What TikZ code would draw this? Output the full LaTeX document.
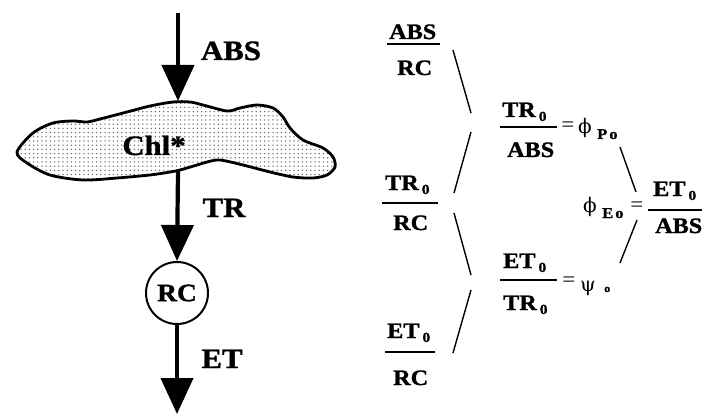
\documentclass[tikz,border=0pt]{standalone}
\usepackage{fontspec}
\setmainfont{Liberation Serif}[FakeStretch=1.1, BoldFeatures={FakeBold=1.2}]
\newfontfamily\grk{DejaVu Serif}
\usetikzlibrary{arrows.meta,patterns.meta}
\tikzset{
 lbl/.style={font=\bfseries\fontsize{28}{28}\selectfont, inner sep=0pt, anchor=base},
 fr/.style={font=\bfseries\fontsize{22}{22}\selectfont, inner sep=0pt, anchor=base west},
 bar/.style={line width=1.5pt},
 link/.style={line width=1.4pt},
 flow/.style={line width=4.2pt, -{Triangle[width=32pt,length=36pt]}},
 eqs/.style={font=\fontsize{21}{21}\selectfont, inner sep=0pt, anchor=center},
 gk/.style={font=\grk\fontsize{20}{20}\selectfont, inner sep=0pt, anchor=center},
 sb/.style={font=\bfseries\fontsize{15}{15}\selectfont, inner sep=0pt, anchor=base west},
 rcnode/.style={circle, draw, line width=2pt, minimum size=62pt, inner sep=0pt, font=\bfseries\fontsize{25}{25}\selectfont},
}
\newcommand\zs{\hspace{3pt}\raisebox{-4pt}{\fontsize{14}{14}\selectfont 0}}
\begin{document}
\begin{tikzpicture}[x=1pt,y=-1pt]
\useasboundingbox (0,0) rectangle (703,414);
% blob
\draw[line width=2.8pt, pattern={Dots[radius=0.75pt,distance=4.2pt]}, pattern color=black!60]
 plot[smooth cycle, tension=0.5] coordinates {
 (17,152) (33,133) (53,123) (73,121) (87,122) (100,119) (127,112) (150,106) (173,102) (190,102)
 (203,105) (227,111) (240,108) (257,105) (273,108) (283,117) (290,128) (303,140) (323,148)
 (333,157) (335,167) (327,175) (313,178) (293,177) (270,172) (243,165) (220,160) (207,162)
 (197,165) (180,170) (170,172) (150,175) (117,178) (83,180) (50,175) (27,163)};
\node[lbl] (chl) at (154,155) {Chl*};
\coordinate (start) at (178,13);
\coordinate (blobtop) at (178,101);
\coordinate (blobbot) at (178,171);
\node[rcnode] (rc) at (177,293) {RC};
\coordinate (etend) at (177,414);
\draw[flow] (start) -- (blobtop);
\draw[flow] (blobbot) -- (rc.north);
\draw[flow] (rc.south) -- (etend);
\node[lbl] (labs) at (231,60) {ABS};
\node[lbl] (ltr) at (224,217) {TR};
\node[lbl] (let) at (222,368) {ET};
% F1 ABS/RC
\node[fr] (f1n) at (389,39) {ABS};
\node[fr] (f1d) at (397,75) {RC};
\coordinate (f1a) at (387,44); \coordinate (f1b) at (440,44);
\draw[bar] (f1a) -- (f1b);
% F2 TR0/ABS
\node[fr] (f2n) at (502,117) {TR\zs};
\node[fr] (f2d) at (507,157) {ABS};
\coordinate (f2a) at (500,127); \coordinate (f2b) at (557,127);
\draw[bar] (f2a) -- (f2b);
\node[eqs] (f2e) at (568,127) {=};
\node[gk] (f2p) at (585,128) {ϕ};
\node[sb] (f2s) at (597,139) {P\hspace{2pt}o};
% F3 ET0/ABS
\node[fr] (f3n) at (653,196) {ET\zs};
\node[fr] (f3d) at (655,233) {ABS};
\coordinate (f3a) at (648,210); \coordinate (f3b) at (702,210);
\draw[bar] (f3a) -- (f3b);
\node[eqs] (f3e) at (637,207) {=};
\node[gk] (f3p) at (590,207) {ϕ};
\node[sb] (f3s) at (602,218) {E\hspace{2pt}o};
% F4 ET0/TR0
\node[fr] (f4n) at (503,268) {ET\zs};
\node[fr] (f4d) at (503,310) {TR\zs};
\coordinate (f4a) at (500,280); \coordinate (f4b) at (557,280);
\draw[bar] (f4a) -- (f4b);
\node[eqs] (f4e) at (569,282) {=};
\node[gk] (f4p) at (588,288) {ψ};
\node[font=\bfseries\fontsize{11}{11}\selectfont, inner sep=0pt, anchor=base west] (f4s) at (604,292) {o};
% F5 TR0/RC
\node[fr] (f5n) at (385,190) {TR\zs};
\node[fr] (f5d) at (393,230) {RC};
\coordinate (f5a) at (382,203); \coordinate (f5b) at (438,203);
\draw[bar] (f5a) -- (f5b);
% F6 ET0/RC
\node[fr] (f6n) at (387,338) {ET\zs};
\node[fr] (f6d) at (393,385) {RC};
\coordinate (f6a) at (385,352); \coordinate (f6b) at (435,352);
\draw[bar] (f6a) -- (f6b);
% links
\coordinate (l1a) at (453,50);  \coordinate (l1b) at (471,113);
\coordinate (l2a) at (471,132); \coordinate (l2b) at (454,193);
\coordinate (l3a) at (620,147); \coordinate (l3b) at (636,192);
\coordinate (l4a) at (637,220); \coordinate (l4b) at (620,263);
\coordinate (l5a) at (454,213); \coordinate (l5b) at (471,275);
\coordinate (l6a) at (471,290); \coordinate (l6b) at (453,353);
\draw[link] (l1a) -- (l1b);
\draw[link] (l2a) -- (l2b);
\draw[link] (l3a) -- (l3b);
\draw[link] (l4a) -- (l4b);
\draw[link] (l5a) -- (l5b);
\draw[link] (l6a) -- (l6b);
\end{tikzpicture}
\end{document}
